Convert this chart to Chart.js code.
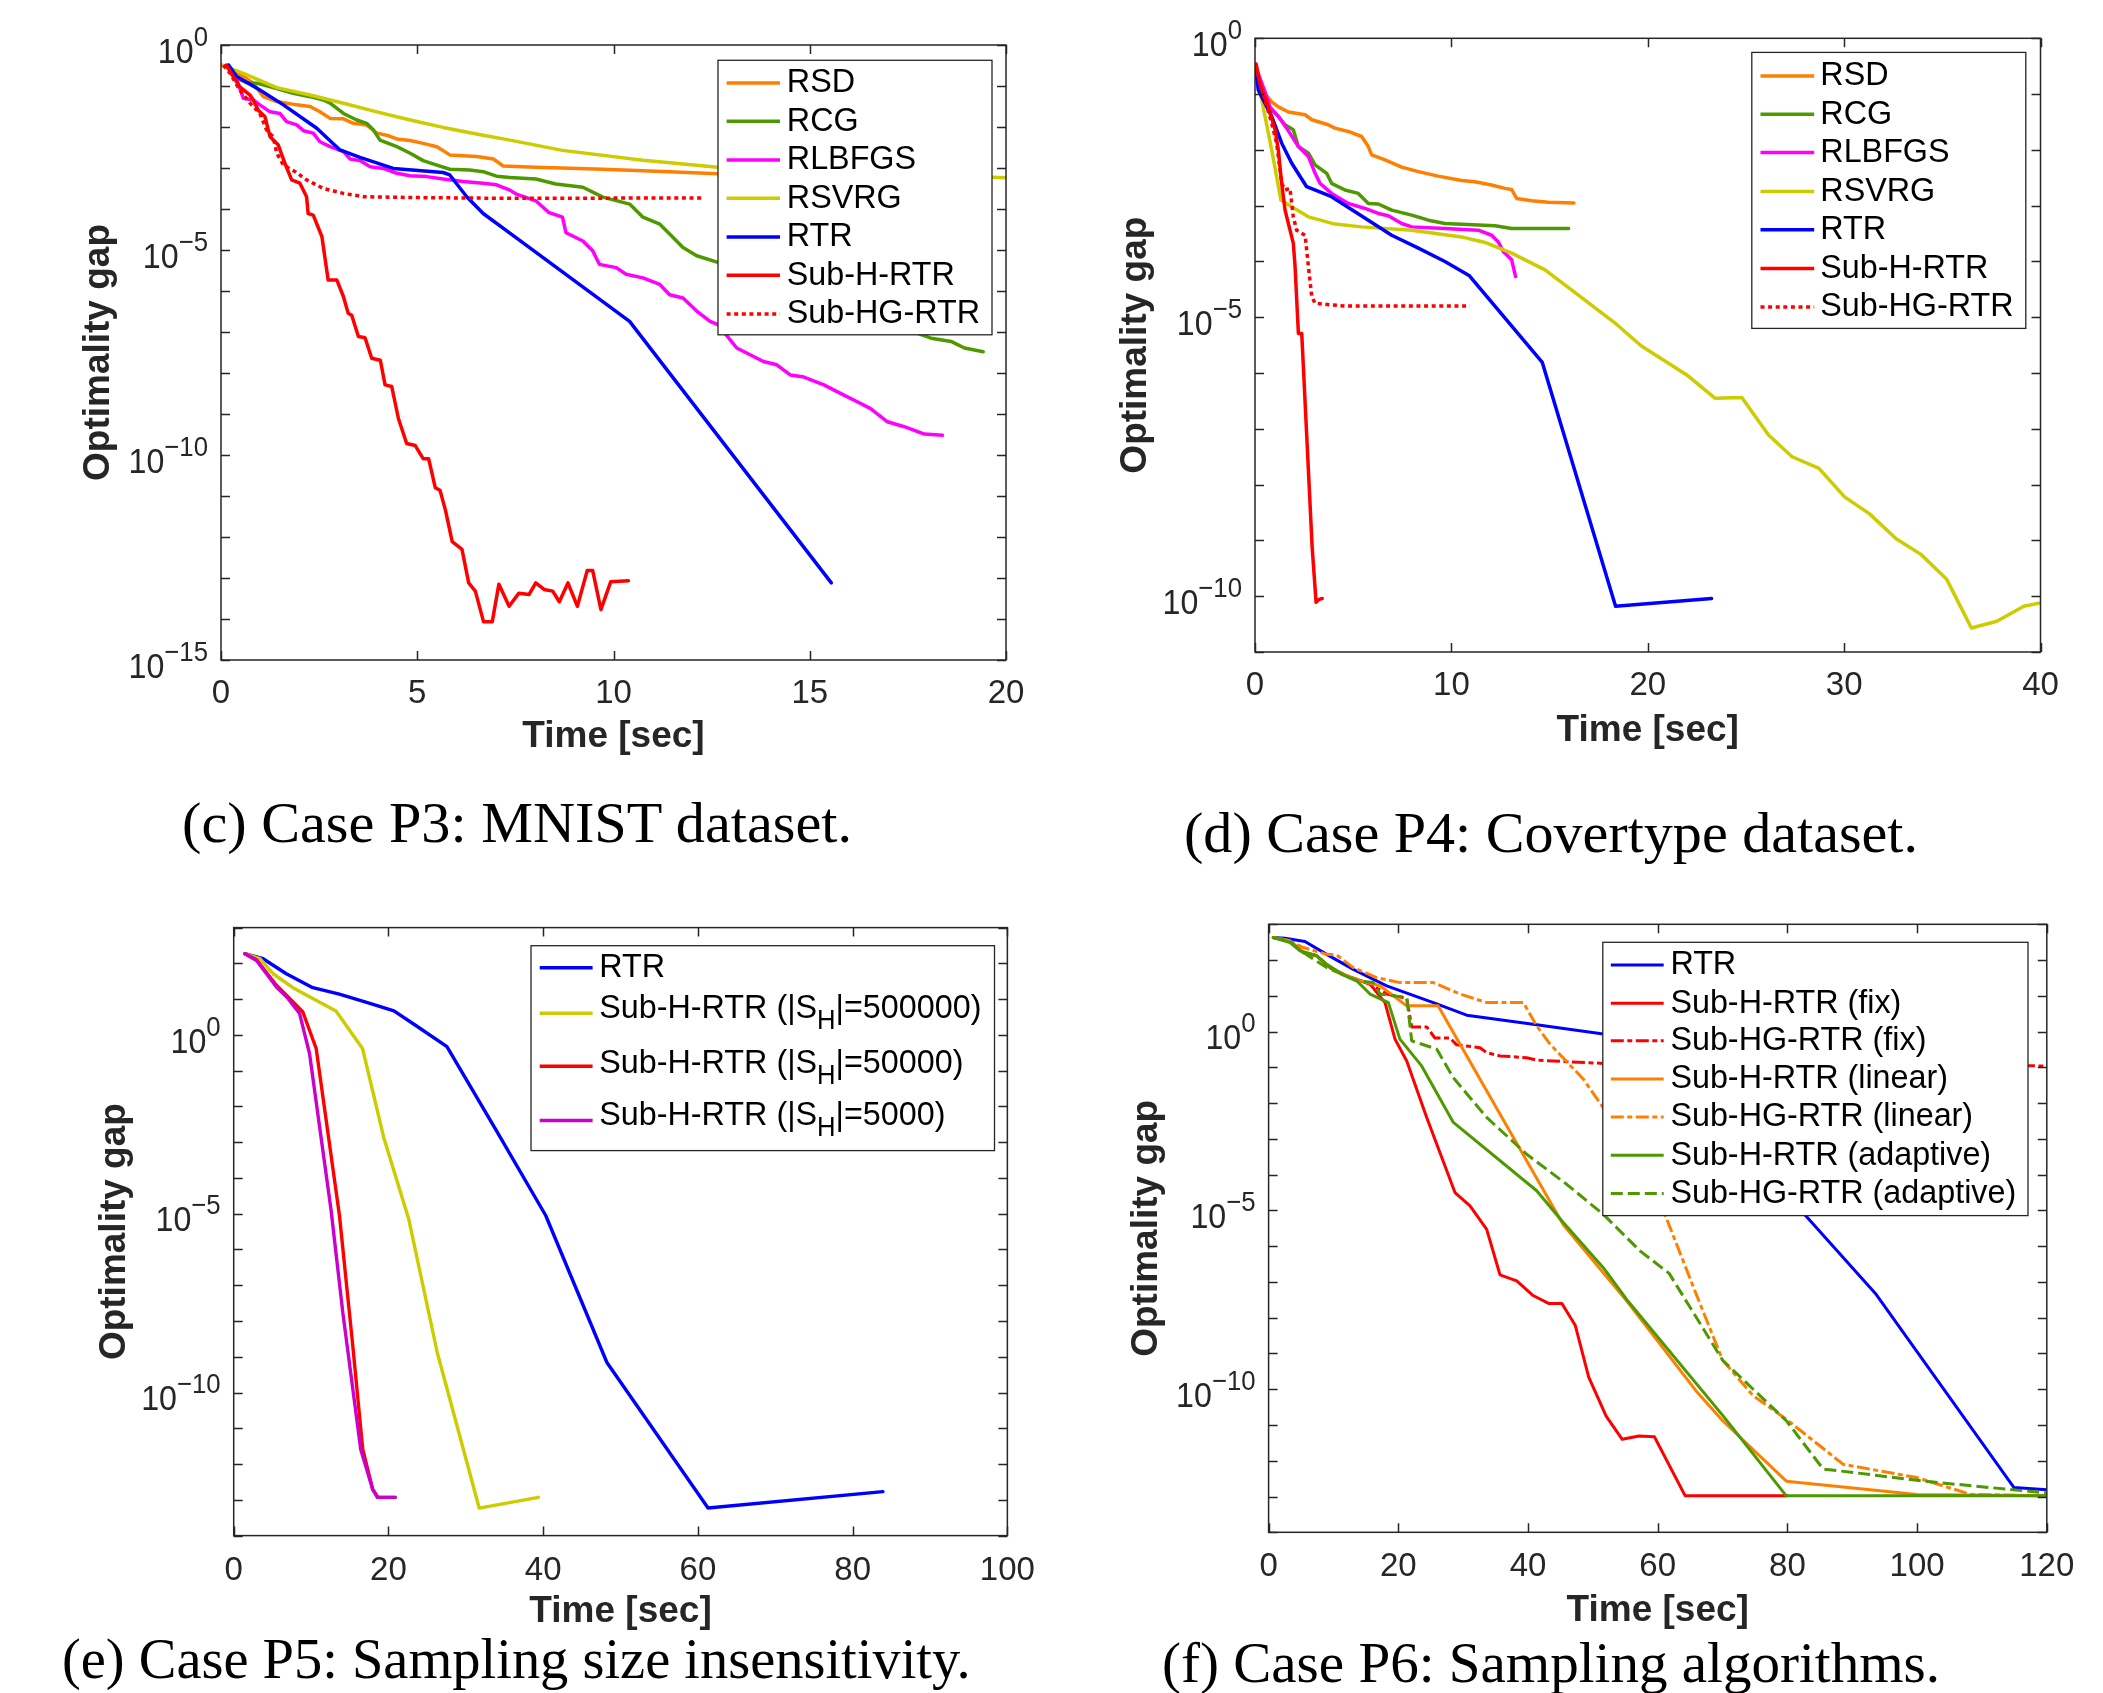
<!DOCTYPE html>
<html><head><meta charset="utf-8">
<script src="https://cdn.jsdelivr.net/npm/chart.js@4.4.1/dist/chart.umd.min.js"></script>
<style>
html,body{margin:0;padding:0;background:#fff;}
body{width:2103px;height:1693px;position:relative;overflow:hidden;}
.panel{position:absolute;}
.panel canvas{display:block;}
.cap{position:absolute;font-family:'Liberation Serif','DejaVu Serif',serif;font-size:57px;line-height:1;white-space:nowrap;color:#000;transform-origin:0 0;}
.bl{display:inline-block;width:0;height:0;vertical-align:baseline;}
</style></head>
<body>
<div class="panel" id="pc"></div>
<div class="panel" id="pd"></div>
<div class="panel" id="pe"></div>
<div class="panel" id="pf"></div>
<script>
// ---------------- DATA: [time (sec), log10(optimality gap)] ----------------
// (c) Case P3: MNIST
const P3_xTicks = [0, 5, 10, 15, 20];
const P3_xLabels = ['0', '5', '10', '15', '20'];
const P3_yTicks = [0, -5, -10, -15];
const P3_yLabels = [['10', '0'], ['10', '−5'], ['10', '−10'], ['10', '−15']];
const P3_RSD = [[0.02,-0.49],[0.57,-0.77],[0.82,-0.93],[1.08,-1.26],[1.42,-1.38],[1.93,-1.46],[2.27,-1.50],[2.52,-1.63],[2.78,-1.79],[3.12,-1.80],[3.37,-1.91],[3.71,-1.95],[3.97,-2.15],[4.22,-2.20],[4.48,-2.29],[4.82,-2.33],[5.15,-2.40],[5.50,-2.48],[5.83,-2.68],[6.17,-2.70],[6.51,-2.72],[6.94,-2.78],[7.19,-2.95],[8.02,-2.98],[9.73,-3.03],[11.43,-3.09],[12.66,-3.14],[16.0,-3.20]];
const P3_RCG = [[0.19,-0.49],[0.40,-0.81],[0.65,-0.92],[0.91,-0.93],[1.42,-1.06],[1.84,-1.18],[2.27,-1.26],[2.61,-1.34],[2.78,-1.42],[3.12,-1.67],[3.46,-1.83],[3.71,-1.91],[3.88,-2.07],[4.05,-2.32],[4.48,-2.48],[4.82,-2.64],[5.15,-2.82],[5.50,-2.93],[5.83,-3.03],[6.34,-3.05],[6.68,-3.09],[7.02,-3.20],[7.36,-3.23],[8.02,-3.27],[8.53,-3.39],[9.22,-3.47],[9.73,-3.71],[10.41,-3.88],[10.75,-4.20],[11.18,-4.37],[11.43,-4.61],[11.77,-4.94],[12.12,-5.14],[12.66,-5.30],[18.09,-7.15],[18.60,-7.23],[18.94,-7.39],[19.42,-7.48]];
const P3_RLBFGS = [[0.19,-0.53],[0.40,-0.85],[0.57,-1.30],[0.82,-1.34],[0.99,-1.46],[1.25,-1.63],[1.50,-1.67],[1.67,-1.87],[1.93,-1.95],[2.10,-2.09],[2.35,-2.15],[2.52,-2.36],[2.78,-2.48],[3.12,-2.60],[3.29,-2.78],[3.54,-2.82],[3.80,-2.97],[4.14,-3.01],[4.48,-3.13],[4.82,-3.19],[5.24,-3.21],[5.66,-3.27],[6.17,-3.33],[6.68,-3.37],[7.02,-3.41],[7.36,-3.54],[7.51,-3.63],[8.02,-3.80],[8.36,-4.09],[8.70,-4.20],[8.79,-4.58],[9.22,-4.78],[9.47,-5.02],[9.64,-5.35],[10.07,-5.43],[10.32,-5.59],[10.75,-5.68],[11.18,-5.84],[11.43,-6.09],[11.77,-6.17],[12.12,-6.49],[12.46,-6.74],[12.66,-6.82],[13.14,-7.39],[13.82,-7.72],[14.16,-7.80],[14.51,-8.05],[14.85,-8.10],[15.36,-8.29],[15.87,-8.54],[16.21,-8.70],[16.55,-8.87],[16.98,-9.19],[17.41,-9.31],[17.92,-9.49],[18.38,-9.52]];
const P3_RSVRG = [[0.02,-0.49],[0.57,-0.69],[1.42,-1.04],[2.27,-1.22],[3.12,-1.42],[3.97,-1.63],[4.82,-1.83],[5.66,-2.01],[6.51,-2.17],[7.36,-2.32],[8.70,-2.57],[10.75,-2.81],[12.66,-2.98],[20.0,-3.24]];
const P3_RTR = [[0.19,-0.49],[0.40,-0.77],[0.99,-1.10],[1.59,-1.46],[2.44,-2.03],[3.03,-2.56],[3.54,-2.74],[4.39,-3.01],[5.66,-3.11],[5.83,-3.17],[6.26,-3.70],[6.68,-4.11],[7.36,-4.59],[10.41,-6.74],[15.55,-13.12]];
const P3_SubH = [[0.14,-0.49],[0.31,-0.77],[0.48,-1.02],[0.74,-1.22],[0.82,-1.34],[0.95,-1.59],[1.12,-1.75],[1.25,-2.24],[1.46,-2.44],[1.63,-2.89],[1.80,-3.29],[2.01,-3.37],[2.18,-3.70],[2.22,-4.11],[2.35,-4.15],[2.57,-4.67],[2.73,-5.73],[2.95,-5.73],[3.12,-6.14],[3.24,-6.54],[3.33,-6.59],[3.50,-7.11],[3.67,-7.14],[3.84,-7.64],[4.06,-7.69],[4.18,-8.29],[4.35,-8.33],[4.52,-9.11],[4.73,-9.72],[4.95,-9.77],[5.15,-10.09],[5.29,-10.09],[5.46,-10.80],[5.58,-10.86],[5.72,-11.35],[5.89,-12.11],[6.14,-12.30],[6.31,-13.12],[6.48,-13.32],[6.69,-14.07],[6.91,-14.07],[7.08,-13.15],[7.34,-13.69],[7.59,-13.37],[7.85,-13.40],[8.02,-13.12],[8.23,-13.28],[8.45,-13.32],[8.62,-13.58],[8.84,-13.12],[9.08,-13.69],[9.33,-12.82],[9.47,-12.82],[9.68,-13.77],[9.93,-13.09],[10.38,-13.07]];
const P3_SubHG = [[0.06,-0.49],[0.23,-0.69],[0.48,-1.10],[0.74,-1.42],[0.99,-1.67],[1.16,-2.07],[1.33,-2.24],[1.42,-2.64],[1.59,-2.93],[1.89,-3.09],[2.18,-3.29],[2.61,-3.50],[3.12,-3.62],[3.63,-3.70],[4.82,-3.72],[7.36,-3.74],[12.29,-3.73]];

// (d) Case P4: Covertype
const P4_xTicks = [0, 10, 20, 30, 40];
const P4_xLabels = ['0', '10', '20', '30', '40'];
const P4_yTicks = [0, -5, -10];
const P4_yLabels = [['10', '0'], ['10', '−5'], ['10', '−10']];
const P4_RSD = [[0,-0.48],[0.51,-0.99],[0.85,-1.14],[1.19,-1.23],[1.70,-1.32],[2.55,-1.37],[2.89,-1.46],[3.73,-1.55],[4.07,-1.61],[4.75,-1.67],[5.43,-1.76],[5.77,-1.94],[5.94,-2.09],[6.62,-2.18],[7.47,-2.31],[8.32,-2.39],[9.33,-2.47],[10.52,-2.55],[11.20,-2.57],[12.05,-2.63],[12.73,-2.69],[13.07,-2.71],[13.32,-2.87],[14.09,-2.91],[14.94,-2.94],[16.24,-2.95]];
const P4_RCG = [[0,-0.48],[0.68,-1.23],[1.19,-1.40],[1.53,-1.55],[1.95,-1.64],[2.21,-1.94],[2.72,-2.06],[3.06,-2.27],[3.65,-2.42],[3.90,-2.60],[4.58,-2.72],[5.26,-2.78],[5.77,-2.96],[6.28,-2.97],[6.96,-3.08],[7.98,-3.17],[8.83,-3.26],[9.67,-3.32],[12.22,-3.36],[13.07,-3.41],[15.97,-3.41]];
const P4_RLBFGS = [[0,-0.48],[0.51,-0.96],[0.76,-1.23],[1.19,-1.40],[1.61,-1.61],[2.21,-1.94],[2.72,-2.12],[3.06,-2.42],[3.31,-2.60],[3.90,-2.78],[4.75,-2.96],[5.60,-3.05],[6.28,-3.14],[6.79,-3.18],[7.47,-3.32],[7.98,-3.38],[9.67,-3.41],[11.37,-3.44],[12.05,-3.53],[12.39,-3.65],[12.64,-3.82],[13.07,-3.97],[13.27,-4.27]];
const P4_RSVRG = [[0,-0.48],[0.51,-1.40],[0.85,-2.00],[1.32,-2.90],[1.87,-3.02],[2.72,-3.20],[4.07,-3.33],[5.43,-3.38],[7.98,-3.44],[10.52,-3.56],[11.71,-3.66],[13.07,-3.85],[14.77,-4.15],[15.78,-4.42],[18.29,-5.09],[19.66,-5.51],[22.05,-6.05],[23.42,-6.45],[24.79,-6.44],[26.15,-7.11],[27.35,-7.50],[28.72,-7.71],[30.02,-8.22],[31.28,-8.52],[32.65,-8.97],[33.91,-9.25],[35.21,-9.69],[36.48,-10.57],[37.78,-10.45],[39.15,-10.18],[40.0,-10.12]];
const P4_RTR = [[0,-0.48],[0.17,-0.93],[0.85,-1.40],[1.36,-1.88],[1.87,-2.24],[2.63,-2.66],[3.90,-2.84],[5.77,-3.26],[6.96,-3.53],[8.32,-3.76],[9.67,-4.00],[10.90,-4.25],[14.63,-5.81],[18.36,-10.18],[23.25,-10.04]];
const P4_SubH = [[0.06,-0.46],[0.25,-0.81],[0.68,-1.23],[1.02,-1.64],[1.19,-2.00],[1.27,-2.30],[1.36,-2.60],[1.53,-3.08],[1.95,-3.67],[2.04,-4.09],[2.21,-5.29],[2.38,-5.29],[2.91,-9.12],[3.11,-10.11],[3.25,-10.06],[3.42,-10.04]];
const P4_SubHG = [[0,-0.48],[0.51,-1.11],[0.85,-1.52],[1.10,-1.88],[1.19,-2.12],[1.36,-2.60],[1.53,-2.72],[1.78,-2.69],[1.95,-3.20],[2.12,-3.44],[2.55,-3.53],[2.72,-4.09],[2.89,-4.63],[3.06,-4.75],[4.58,-4.80],[10.94,-4.80]];

// (e) Case P5: sampling size
const P5_xTicks = [0, 20, 40, 60, 80, 100];
const P5_xLabels = ['0', '20', '40', '60', '80', '100'];
const P5_yTicks = [0, -5, -10];
const P5_yLabels = [['10', '0'], ['10', '−5'], ['10', '−10']];
const P5_RTR = [[1.45,2.27],[3.80,2.13],[6.80,1.71],[10.22,1.32],[13.65,1.14],[17.50,0.89],[20.71,0.67],[23.49,0.27],[27.56,-0.33],[34.05,-2.71],[40.33,-5.05],[48.24,-9.16],[61.31,-13.23],[83.92,-12.77]];
const P5_S500000 = [[1.45,2.27],[3.38,2.13],[5.09,1.71],[7.65,1.32],[10.22,1.02],[13.22,0.67],[16.65,-0.38],[19.43,-2.90],[22.61,-5.14],[26.31,-8.88],[31.73,-13.23],[39.38,-12.93]];
const P5_S50000 = [[1.45,2.27],[2.95,2.10],[5.52,1.39],[7.23,1.02],[8.94,0.64],[10.66,-0.38],[13.67,-5.05],[15.39,-8.69],[16.68,-11.59],[17.97,-12.71],[18.66,-12.93],[20.89,-12.93]];
const P5_S5000 = [[1.45,2.27],[2.95,2.08],[5.52,1.34],[7.01,1.02],[8.51,0.60],[9.80,-0.52],[12.58,-4.89],[14.10,-7.76],[16.42,-11.59],[17.97,-12.71],[18.57,-12.93],[20.89,-12.93]];

// (f) Case P6: sampling algorithms
const P6_xTicks = [0, 20, 40, 60, 80, 100, 120];
const P6_xLabels = ['0', '20', '40', '60', '80', '100', '120'];
const P6_yTicks = [0, -5, -10];
const P6_yLabels = [['10', '0'], ['10', '−5'], ['10', '−10']];
const P6_RTR = [[0.72,2.63],[2.53,2.61],[5.61,2.52],[8.96,2.16],[13.06,1.74],[18.21,1.28],[25.40,0.81],[30.55,0.46],[41.34,0.19],[51.61,-0.07],[82.93,-5.17],[93.57,-7.32],[114.94,-12.75],[120,-12.81]];
const P6_SubH_fix = [[0.72,2.63],[3.30,2.54],[5.35,2.21],[7.42,2.12],[9.47,1.79],[12.04,1.56],[15.64,1.33],[17.95,0.81],[19.49,-0.21],[21.30,-0.82],[24.38,-2.40],[28.74,-4.50],[31.06,-4.87],[33.63,-5.53],[35.68,-6.80],[38.26,-6.97],[40.79,-7.38],[43.17,-7.60],[45.23,-7.60],[47.30,-8.22],[49.36,-9.66],[52.05,-10.75],[54.53,-11.40],[57.11,-11.31],[59.49,-11.33],[64.24,-12.98],[80.04,-12.98]];
const P6_SubHG_fix = [[0.72,2.63],[3.30,2.54],[5.35,2.21],[7.42,2.12],[9.47,1.79],[12.04,1.56],[15.64,1.33],[18.21,1.05],[21.30,0.93],[22.07,0.13],[24.38,0.13],[25.66,-0.18],[27.97,-0.18],[29.00,-0.37],[32.60,-0.45],[33.63,-0.59],[35.68,-0.68],[39.80,-0.73],[41.34,-0.80],[51.61,-0.89],[120,-0.96]];
const P6_SubH_lin = [[0.72,2.63],[3.30,2.54],[5.35,2.21],[7.42,2.12],[8.96,1.88],[11.01,1.65],[14.10,1.42],[17.18,1.28],[21.30,0.72],[26.13,0.72],[45.44,-5.40],[55.21,-7.53],[65.89,-10.04],[70.02,-10.88],[79.83,-12.57],[99.97,-12.94],[120,-12.98]];
const P6_SubHG_lin = [[0.72,2.63],[3.81,2.49],[5.35,2.35],[8.96,2.16],[10.50,2.14],[13.06,1.79],[16.65,1.51],[20.25,1.37],[25.40,1.37],[29.53,1.05],[33.63,0.81],[39.29,0.81],[41.34,0.16],[43.40,-0.35],[48.54,-1.33],[51.61,-2.13],[61.24,-5.17],[65.89,-7.32],[70.02,-9.19],[74.67,-10.17],[79.83,-10.84],[88.61,-12.10],[99.97,-12.47],[108.23,-12.94],[120,-12.98]];
const P6_SubH_ad = [[0.72,2.63],[3.30,2.49],[4.84,2.26],[7.42,2.12],[8.96,1.88],[11.27,1.60],[13.58,1.42],[15.64,1.05],[18.47,0.81],[20.25,-0.21],[23.60,-0.96],[28.49,-2.54],[41.34,-4.45],[45.44,-5.34],[51.61,-6.60],[55.21,-7.49],[70.02,-10.73],[79.83,-12.98],[120,-12.98]];
const P6_SubHG_ad = [[0.72,2.63],[3.30,2.52],[5.35,2.21],[8.96,1.79],[13.58,1.42],[16.15,1.37],[17.18,1.05],[21.30,0.95],[22.07,-0.26],[25.92,-0.49],[28.49,-1.29],[33.63,-2.40],[39.80,-3.43],[45.97,-4.27],[51.61,-5.11],[57.26,-6.13],[61.76,-6.76],[70.02,-9.19],[79.83,-10.88],[85.51,-12.23],[90.67,-12.34],[101.0,-12.57],[111.3,-12.75],[120,-12.90]];

// ---------------- STYLE / LAYOUT ----------------
const FONT = "'Liberation Sans', Arial, Helvetica, 'DejaVu Sans', sans-serif";
const TXT = '#262626';
const ORANGE = '#FF8000', GREEN = '#4D9900', MAGENTA = '#FF00FF', YELLOW = '#CCCC00', BLUE = '#0000FF', RED = '#FF0000', PURPLE = '#CC00CC';
const DOT = [4, 3.6], DASHDOT = [13, 3.5, 5, 3.5], DASH = [12, 5];

const panels = [
  { id:'c', ox:0, oy:0, w:1050, h:790, L:221, R:1006, T:45, B:660, xLabY:694.4, xTitleY:736.6, yTitleX:98.4,
    xMin:0, xMax:20, yMinExp:-15, yMaxExp:0, xTicks:P3_xTicks, xLabels:P3_xLabels, yTicks:P3_yTicks, yLabels:P3_yLabels,
    series:[
      {label:'RSD', data:P3_RSD, color:ORANGE, w:3.5},
      {label:'RCG', data:P3_RCG, color:GREEN, w:3.5},
      {label:'RLBFGS', data:P3_RLBFGS, color:MAGENTA, w:3.5},
      {label:'RSVRG', data:P3_RSVRG, color:YELLOW, w:3.5},
      {label:'RTR', data:P3_RTR, color:BLUE, w:3.5},
      {label:'Sub-H-RTR', data:P3_SubH, color:RED, w:3.5},
      {label:'Sub-HG-RTR', data:P3_SubHG, color:RED, w:3.5, dash:DOT}],
    legend:{box:[718,60.3,992,334.8], rows:[83,121.2,160,198.2,237.1,275.2,314.1], lx0:726.6, lx1:780, tx:786.8} },
  { id:'d', ox:1050, oy:0, w:1053, h:790, L:1255, R:2040.5, T:38.3, B:652, xLabY:686.3, xTitleY:730.6, yTitleX:1135.3,
    xMin:0, xMax:40, yMinExp:-11, yMaxExp:0, xTicks:P4_xTicks, xLabels:P4_xLabels, yTicks:P4_yTicks, yLabels:P4_yLabels,
    series:[
      {label:'RSD', data:P4_RSD, color:ORANGE, w:3.5},
      {label:'RCG', data:P4_RCG, color:GREEN, w:3.5},
      {label:'RLBFGS', data:P4_RLBFGS, color:MAGENTA, w:3.5},
      {label:'RSVRG', data:P4_RSVRG, color:YELLOW, w:3.5},
      {label:'RTR', data:P4_RTR, color:BLUE, w:3.5},
      {label:'Sub-H-RTR', data:P4_SubH, color:RED, w:3.5},
      {label:'Sub-HG-RTR', data:P4_SubHG, color:RED, w:3.5, dash:DOT}],
    legend:{box:[1751.8,52.4,2025.8,328.4], rows:[75.9,114.2,152.4,191.4,229.7,268.6,306.9], lx0:1760.5, lx1:1814.2, tx:1820.3} },
  { id:'e', ox:0, oy:880, w:1050, h:770, L:233.7, R:1012.5, T:927.6, B:1535.6, xLabY:1570.5, xTitleY:1612, yTitleX:115,
    xMin:0, xMax:100, yMinExp:-14, yMaxExp:3, xTicks:P5_xTicks, xLabels:P5_xLabels, yTicks:P5_yTicks, yLabels:P5_yLabels,
    series:[
      {label:'RTR', data:P5_RTR, color:BLUE, w:3.4},
      {label:'Sub-H-RTR (|S_H|=500000)', data:P5_S500000, color:YELLOW, w:3.4},
      {label:'Sub-H-RTR (|S_H|=50000)', data:P5_S50000, color:RED, w:3.4},
      {label:'Sub-H-RTR (|S_H|=5000)', data:P5_S5000, color:PURPLE, w:3.4}],
    legend:{box:[531,945.7,994.5,1150.6], rows:[967.8,1013.3,1066.2,1120.5], tdy:[0,-4.4,-3,-5], lx0:539.7, lx1:592.6, tx:599.3} },
  { id:'f', ox:1050, oy:880, w:1053, h:770, L:1268.6, R:2046.8, T:924.3, B:1532.3, xLabY:1567.1, xTitleY:1610.6, yTitleX:1146.8,
    xMin:0, xMax:120, yMinExp:-14, yMaxExp:3, xTicks:P6_xTicks, xLabels:P6_xLabels, yTicks:P6_yTicks, yLabels:P6_yLabels,
    series:[
      {label:'RTR', data:P6_RTR, color:BLUE, w:3},
      {label:'Sub-H-RTR (fix)', data:P6_SubH_fix, color:RED, w:3},
      {label:'Sub-HG-RTR (fix)', data:P6_SubHG_fix, color:RED, w:3, dash:DASHDOT},
      {label:'Sub-H-RTR (linear)', data:P6_SubH_lin, color:ORANGE, w:3},
      {label:'Sub-HG-RTR (linear)', data:P6_SubHG_lin, color:ORANGE, w:3, dash:DASHDOT},
      {label:'Sub-H-RTR (adaptive)', data:P6_SubH_ad, color:GREEN, w:3},
      {label:'Sub-HG-RTR (adaptive)', data:P6_SubHG_ad, color:GREEN, w:3, dash:DASH}],
    legend:{box:[1602.8,942.3,2028,1215.6], rows:[965.1,1003.3,1040.8,1079,1117.1,1155.3,1193.5], lx0:1610.8, lx1:1663.7, tx:1670.4} }
];

const CAPTIONS = [
  {text:'(c) Case P3: MNIST dataset.', left:182, width:670, baseline:842},
  {text:'(d) Case P4: Covertype dataset.', left:1184.3, width:734, baseline:851.5},
  {text:'(e) Case P5: Sampling size insensitivity.', left:62.3, width:908.7, baseline:1677.6},
  {text:'(f) Case P6: Sampling algorithms.', left:1162.2, width:778, baseline:1682}
];

// ---------------- DRAWING ----------------
const TICK_SIZE = 33, TITLE_SIZE = 37, LEG_SIZE = 34, LEG_SX = 0.95;
const YL_BASE = 35, YL_EXP = 28, YL_SX = 0.92, YL_GAP = 13;

function drawLegendLabel(ctx, text, x, y) {
  ctx.save();
  ctx.translate(x, y);
  ctx.scale(LEG_SX, 1);
  ctx.fillStyle = '#000';
  ctx.textBaseline = 'middle';
  ctx.textAlign = 'left';
  ctx.font = LEG_SIZE + 'px ' + FONT;
  const parts = text.split('_');
  let cx = 0;
  ctx.fillText(parts[0], cx, 0);
  cx += ctx.measureText(parts[0]).width;
  if (parts.length > 1) {
    const sub = parts[1].charAt(0), rest = parts[1].slice(1);
    ctx.font = '27px ' + FONT;
    ctx.fillText(sub, cx, 13);
    cx += ctx.measureText(sub).width;
    ctx.font = LEG_SIZE + 'px ' + FONT;
    ctx.fillText(rest, cx, 0);
  }
  ctx.restore();
}

// y tick labels: base "10" with a raised exponent, placed by the y scale
function drawYTickLabels(chart, p) {
  const ctx = chart.ctx;
  const ys = chart.scales.y;
  const left = chart.chartArea.left;
  p.yTicks.forEach((e, i) => {
    const y = ys.getPixelForValue(Math.pow(10, e));
    const base = p.yLabels[i][0], exp = p.yLabels[i][1];
    ctx.save();
    ctx.translate(left - YL_GAP, y);
    ctx.scale(YL_SX, 1);
    ctx.fillStyle = TXT;
    ctx.textAlign = 'right';
    ctx.textBaseline = 'middle';
    ctx.font = YL_EXP + 'px ' + FONT;
    const ew = ctx.measureText(exp).width;
    ctx.fillText(exp, 0, -7);
    ctx.font = YL_BASE + 'px ' + FONT;
    ctx.fillText(base, -ew, 8);
    ctx.restore();
  });
}

function framePlugin(p) {
  return {
    id: 'frame_' + p.id,
    afterDatasetsDraw(chart) {
      const ctx = chart.ctx;
      const {left, right, top, bottom} = chart.chartArea;
      const xs = chart.scales.x, ys = chart.scales.y;
      ctx.save();
      ctx.setLineDash([]);
      ctx.strokeStyle = TXT;
      ctx.lineWidth = 1.5;
      ctx.beginPath();
      for (let e = p.yMinExp; e <= p.yMaxExp; e++) {
        const y = Math.round(ys.getPixelForValue(Math.pow(10, e))) + 0.5;
        ctx.moveTo(left, y); ctx.lineTo(left + 9, y);
        ctx.moveTo(right, y); ctx.lineTo(right - 9, y);
      }
      for (const v of p.xTicks) {
        const x = Math.round(xs.getPixelForValue(v)) + 0.5;
        ctx.moveTo(x, bottom); ctx.lineTo(x, bottom - 9);
        ctx.moveTo(x, top); ctx.lineTo(x, top + 9);
      }
      ctx.stroke();
      ctx.strokeRect(left, top, right - left, bottom - top);

      drawYTickLabels(chart, p);

      // legend (MATLAB style, opaque, boxed)
      const lg = p.legend;
      const bx0 = lg.box[0] - p.ox, by0 = lg.box[1] - p.oy, bx1 = lg.box[2] - p.ox, by1 = lg.box[3] - p.oy;
      ctx.fillStyle = '#fff';
      ctx.fillRect(bx0, by0, bx1 - bx0, by1 - by0);
      ctx.lineWidth = 1.3;
      ctx.strokeStyle = TXT;
      ctx.strokeRect(bx0, by0, bx1 - bx0, by1 - by0);
      chart.data.datasets.forEach((ds, i) => {
        const y = lg.rows[i] - p.oy;
        ctx.beginPath();
        ctx.strokeStyle = ds.borderColor;
        ctx.lineWidth = ds.borderWidth;
        ctx.lineCap = 'butt';
        ctx.setLineDash(ds.borderDash || []);
        ctx.moveTo(lg.lx0 - p.ox, y);
        ctx.lineTo(lg.lx1 - p.ox, y);
        ctx.stroke();
        ctx.setLineDash([]);
        drawLegendLabel(ctx, ds.label, lg.tx - p.ox, y + (lg.tdy ? lg.tdy[i] : 0));
      });
      ctx.restore();
    }
  };
}

function makePanel(p) {
  const div = document.getElementById('p' + p.id);
  div.style.left = p.ox + 'px';
  div.style.top = p.oy + 'px';
  div.style.width = p.w + 'px';
  div.style.height = p.h + 'px';
  const canvas = document.createElement('canvas');
  canvas.width = p.w; canvas.height = p.h;
  canvas.style.width = p.w + 'px'; canvas.style.height = p.h + 'px';
  div.appendChild(canvas);

  const padL = 3, padB = 3;
  const WY = (p.L - p.ox) - padL;
  const HX = p.h - (p.B - p.oy) - padB;
  const padR = p.w - (p.R - p.ox);
  const padT = p.T - p.oy;
  const titleLH = TITLE_SIZE * 1.2, tickLH = TICK_SIZE * 1.2;
  const xTitlePad = (p.oy + p.h - padB) - p.xTitleY - titleLH / 2;
  const yTitlePad = p.yTitleX - (p.ox + padL) - titleLH / 2;
  const xTickPad = p.xLabY - p.B - tickLH / 2;

  const datasets = p.series.map((s, i) => ({
    label: s.label,
    data: s.data.map(d => ({x: d[0], y: Math.pow(10, d[1])})),
    borderColor: s.color,
    backgroundColor: s.color,
    borderWidth: s.w,
    borderDash: s.dash || [],
    borderCapStyle: s.dash ? 'butt' : 'round',
    borderJoinStyle: 'round',
    pointRadius: 0,
    pointHoverRadius: 0,
    tension: 0,
    fill: false,
    order: -i
  }));

  new Chart(canvas, {
    type: 'line',
    data: {datasets},
    options: {
      responsive: false,
      animation: false,
      devicePixelRatio: 1,
      events: [],
      layout: {autoPadding: false, padding: {left: padL, right: padR, top: padT, bottom: padB}},
      plugins: {legend: {display: false}, tooltip: {enabled: false}, title: {display: false}},
      scales: {
        x: {
          type: 'linear', position: 'bottom', min: p.xMin, max: p.xMax,
          afterBuildTicks: sc => { sc.ticks = p.xTicks.map(v => ({value: v})); },
          afterFit: sc => { sc.height = HX; },
          grid: {display: false, drawTicks: false},
          border: {display: false},
          ticks: {autoSkip: false, maxRotation: 0, minRotation: 0, padding: xTickPad, color: TXT,
                  font: {family: FONT, size: TICK_SIZE}, callback: (v, i) => p.xLabels[i]},
          title: {display: true, text: 'Time [sec]', color: TXT, font: {family: FONT, size: TITLE_SIZE, weight: 'bold'},
                  padding: {top: 0, bottom: xTitlePad}}
        },
        y: {
          type: 'logarithmic', position: 'left', min: Math.pow(10, p.yMinExp), max: Math.pow(10, p.yMaxExp),
          afterBuildTicks: sc => { sc.ticks = p.yTicks.map(e => ({value: Math.pow(10, e)})); },
          afterFit: sc => { sc.width = WY; },
          grid: {display: false, drawTicks: false},
          border: {display: false},
          ticks: {display: false, autoSkip: false},
          title: {display: true, text: 'Optimality gap', color: TXT, font: {family: FONT, size: TITLE_SIZE, weight: 'bold'},
                  padding: {top: yTitlePad, bottom: 0}}
        }
      }
    },
    plugins: [framePlugin(p)]
  });
}

panels.forEach(makePanel);

// captions (real HTML text)
CAPTIONS.forEach(c => {
  const d = document.createElement('div');
  d.className = 'cap';
  const t = document.createElement('span');
  t.textContent = c.text;
  const m = document.createElement('span');
  m.className = 'bl';
  d.appendChild(t); d.appendChild(m);
  d.style.left = c.left + 'px';
  d.style.top = '0px';
  document.body.appendChild(d);
  const w = t.getBoundingClientRect().width;
  const base = m.offsetTop;
  d.style.top = (c.baseline - base) + 'px';
  d.style.transform = 'scaleX(' + (c.width / w) + ')';
});
</script>
</body></html>
